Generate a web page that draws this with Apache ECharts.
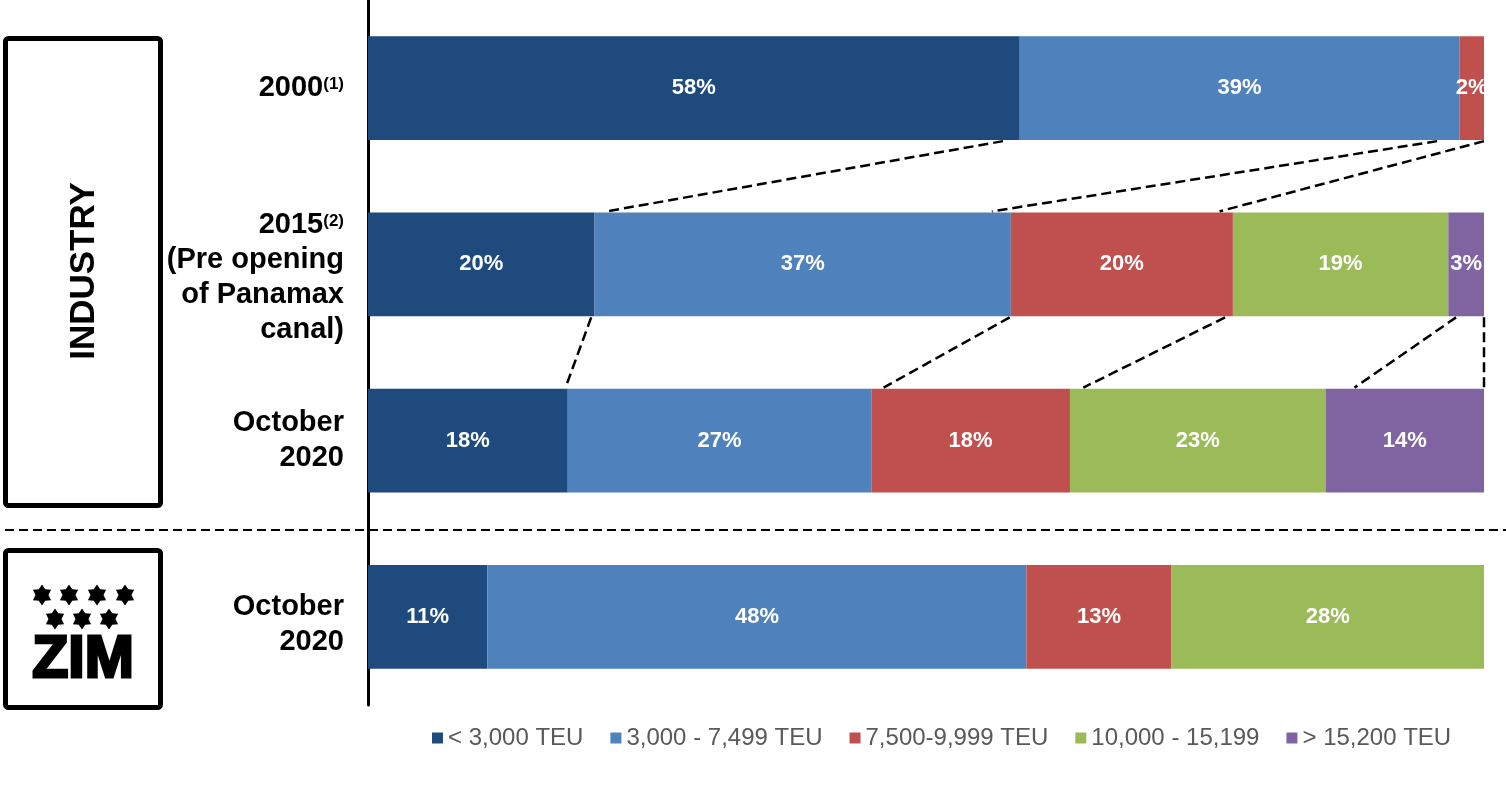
<!DOCTYPE html>
<html>
<head>
<meta charset="utf-8">
<script src="https://cdn.jsdelivr.net/npm/echarts@6/dist/echarts.min.js"></script>
<style>
html,body{margin:0;padding:0;background:#fff;}
#chart{width:1506px;height:807px;}
</style>
</head>
<body>
<div id="chart"></div>
<script>
// ---- data ----
const categoryKeys = ['2000', '2015', 'Oct 2020 Industry', 'Oct 2020 ZIM'];
const categoryLabels = [
  '{b|2000}{sup|(1)}',
  '{sp26| }\n{b|2015}{sup|(2)}\n{b|(Pre opening}\n{b|of Panamax}\n{b|canal)}',
  '{b|October}\n{b|2020}',
  '{sp16| }\n{b|October}\n{b|2020}'
];
const seriesNames = ['< 3,000 TEU', '3,000 - 7,499 TEU', '7,500-9,999 TEU', '10,000 - 15,199', '> 15,200 TEU'];
const under3000   = [58.4, 20.3, 17.9, 10.7];
const from3000    = [39.4, 37.3, 27.2, 48.3];
const from7500    = [2.2, 19.9, 17.8, 13.0];
const from10000   = [null, 19.3, 22.9, 28.0];
const over15200   = [null, 3.2, 14.2, null];
// dashed connectors: [upper row index, x on upper bar bottom (%), x on lower bar top (%)]
const connectors = [
  [0, 56.9, 21.4], [0, 95.8, 55.9], [0, 100, 76.3],
  [1, 20.0, 17.7], [1, 57.5, 46.2], [1, 76.8, 64.1], [1, 97.5, 88.4], [1, 100, 100]
];

const colors = ['#1F4A7E', '#4F81BD', '#C0504D', '#9BBB59', '#8064A2'];
const FONT = 'Arial, "Liberation Sans", sans-serif';
const BAR_RATIO = 0.59;

const chart = echarts.init(document.getElementById('chart'));

function barSeries(name, data, i) {
  return {
    name: name, type: 'bar', stack: 'total', data: data,
    barCategoryGap: '41%',
    itemStyle: { color: colors[i] },
    label: {
      show: true, position: 'inside', color: '#fff', fontWeight: 'bold',
      fontSize: 22, fontFamily: FONT,
      formatter: p => Math.round(p.value) + '%'
    }
  };
}

// six-pointed star polygon points
function star(cx, cy, R) {
  const pts = [];
  for (let i = 0; i < 12; i++) {
    const a = -Math.PI / 2 + i * Math.PI / 6;
    const r = i % 2 === 0 ? R : R * 0.62;
    pts.push([cx + r * Math.cos(a), cy + r * Math.sin(a)]);
  }
  return { type: 'polygon', shape: { points: pts }, style: { fill: '#000' } };
}
const starCenters = [[42, 595], [69, 595], [97, 595], [125, 595], [55, 619], [82, 619], [109, 619]];

const graphics = [
  { type: 'rect', shape: { x: 5.5, y: 38.5, width: 155, height: 467, r: 3 },
    style: { fill: 'none', stroke: '#000', lineWidth: 5 } },
  { type: 'rect', shape: { x: 5.5, y: 550.5, width: 155, height: 157, r: 3 },
    style: { fill: 'none', stroke: '#000', lineWidth: 5 } },
  { type: 'text', x: 84, y: 271, rotation: Math.PI / 2,
    style: { text: 'INDUSTRY', font: 'bold 35px ' + FONT, fill: '#000', align: 'center', verticalAlign: 'middle' } },
  { type: 'line', shape: { x1: 5, y1: 530, x2: 1506, y2: 530 },
    style: { stroke: '#000', lineWidth: 2, lineDash: [9, 5] } },
  { type: 'text', x: 83, y: 661,
    style: { text: 'ZIM', font: 'bold 59px ' + FONT, fill: '#000', stroke: '#000', lineWidth: 3,
      align: 'center', verticalAlign: 'middle' } }
].concat(starCenters.map(c => star(c[0], c[1], 10.5)));

const option = {
  backgroundColor: '#fff',
  animation: false,
  color: colors,
  grid: { left: 368, right: 22, top: 0, bottom: 102, containLabel: false },
  legend: {
    data: seriesNames,
    left: 427, top: 721,
    icon: 'rect', itemWidth: 11, itemHeight: 11, itemGap: 27,
    textStyle: { fontSize: 24, color: '#595959', fontFamily: FONT }
  },
  xAxis: {
    type: 'value', min: 0, max: 100, show: false
  },
  yAxis: {
    type: 'category', inverse: true, data: categoryKeys,
    axisLine: { show: true, lineStyle: { color: '#000', width: 3 } },
    axisTick: { show: false },
    splitLine: { show: false },
    axisLabel: {
      margin: 24, color: '#000', fontFamily: FONT, fontWeight: 'bold', fontSize: 29, lineHeight: 35,
      align: 'right',
      formatter: (v) => categoryLabels[categoryKeys.indexOf(v)],
      rich: {
        b: { fontSize: 29, fontWeight: 'bold', fontFamily: FONT, color: '#000', lineHeight: 35 },
        sp26: { fontSize: 10, lineHeight: 26 },
        sp16: { fontSize: 10, lineHeight: 16 },
        sup: { fontSize: 17, fontWeight: 'bold', fontFamily: FONT, color: '#000', lineHeight: 35, height: 27, verticalAlign: 'top' }
      }
    }
  },
  graphic: graphics,
  series: [
    barSeries(seriesNames[0], under3000, 0),
    barSeries(seriesNames[1], from3000, 1),
    barSeries(seriesNames[2], from7500, 2),
    barSeries(seriesNames[3], from10000, 3),
    barSeries(seriesNames[4], over15200, 4),
    {
      type: 'custom', name: 'connectors', silent: true, z: 5,
      data: connectors,
      encode: { x: [1, 2], y: 0 },
      renderItem: (params, api) => {
        const r = api.value(0), xa = api.value(1), xb = api.value(2);
        const p1 = api.coord([xa, r]);
        const p2 = api.coord([xb, r + 1]);
        const half = api.size([0, 1])[1] * BAR_RATIO / 2;
        return {
          type: 'line',
          shape: { x1: p1[0], y1: p1[1] + half + 1, x2: p2[0], y2: p2[1] - half - 1 },
          style: { stroke: '#000', lineWidth: 2.5, lineDash: [10, 5] }
        };
      }
    }
  ]
};
chart.setOption(option);
</script>
</body>
</html>
